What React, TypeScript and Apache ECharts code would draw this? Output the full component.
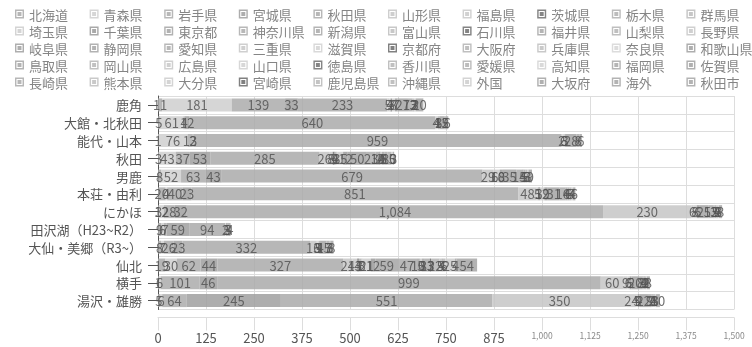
import React, { useEffect, useRef } from "react";
import * as echarts from "echarts";

const _ = null;

const regions = [
  "鹿角",
  "大館・北秋田",
  "能代・山本",
  "秋田",
  "男鹿",
  "本荘・由利",
  "にかほ",
  "田沢湖（H23~R2）",
  "大仙・美郷（R3~）",
  "仙北",
  "横手",
  "湯沢・雄勝",
];

const seriesNames = [
  "北海道", "青森県", "岩手県", "宮城県", "秋田県", "山形県", "福島県", "茨城県", "栃木県", "群馬県",
  "埼玉県", "千葉県", "東京都", "神奈川県", "新潟県", "富山県", "石川県", "福井県", "山梨県", "長野県",
  "岐阜県", "静岡県", "愛知県", "三重県", "滋賀県", "京都府", "大阪府", "兵庫県", "奈良県", "和歌山県",
  "鳥取県", "岡山県", "広島県", "山口県", "徳島県", "香川県", "愛媛県", "高知県", "福岡県", "佐賀県",
  "長崎県", "熊本県", "大分県", "宮崎県", "鹿児島県", "沖縄県", "外国", "大坂府", "海外", "秋田市",
];

const seriesColors = [
  "#a9a9a9", "#cfcfcf", "#acacac", "#9f9f9f", "#aaaaaa", "#c6c6c6", "#c9c9c9", "#6e6e6e", "#b0b0b0", "#bcbcbc",
  "#cccccc", "#9a9a9a", "#a4a4a4", "#ababab", "#a8a8a8", "#bebebe", "#6f6f6f", "#a7a7a7", "#b4b4b4", "#c8c8c8",
  "#a0a0a0", "#a5a5a5", "#acacac", "#c7c7c7", "#d2d2d2", "#6a6a6a", "#b4b4b4", "#c0c0c0", "#d6d6d6", "#a0a0a0",
  "#a6a6a6", "#b6b6b6", "#c8c8c8", "#d0d0d0", "#707070", "#b5b5b5", "#b0b0b0", "#d2d2d2", "#a8a8a8", "#a2a2a2",
  "#aaaaaa", "#c0c0c0", "#cdcdcd", "#6a6a6a", "#b8b8b8", "#b5b5b5", "#cccccc", "#a2a2a2", "#a6a6a6", "#a6a6a6",
];

// one row per series, one value per region (same order as `regions`)
const hokkaido = [11, 5, 1, 3, 8, 20, 3, 9, 8, 19, 1, 5];
const aomori = [181, 61, 76, 43, 52, 4, 12, 6, 7, 30, 6, 6];
const iwate = [139, 4, 13, 37, 63, 40, 28, 7, 26, 62, 101, 64];
const miyagi = [33, 12, 2, 53, 43, 23, 32, 59, 23, 44, 46, 245];
const akitaPref = [233, 640, 959, 285, 679, 851, 1084, 94, 332, 327, 999, 551];
const yamagata = [5, 4, 2, 26, 29, 48, 230, _, 16, 24, 60, 350];
const fukushima = [4, _, _, 8, 6, 5, 6, _, 3, 13, 9, 24];
const ibaraki = [3, _, _, 5, _, 3, _, _, _, 4, _, _];
const tochigi = [_, _, _, 4, _, _, _, _, _, 7, _, _];
const gunma = [_, _, _, 3, _, _, _, _, _, 3, _, _];
const saitama = [8, 4, 6, 15, 10, 12, 8, 2, 5, 21, 6, 5];
const chiba = [7, 3, 3, 12, 8, 9, 6, _, 4, 12, 5, 4];
const tokyo = [27, 12, 28, 50, 35, 31, 25, 5, 15, 59, 20, 22];
const kanagawa = [12, 5, 8, 23, 15, 16, 12, 3, 7, 47, 8, 9];
const niigata = [3, _, _, 10, 4, 4, 3, _, _, 10, 3, 2];
const ishikawa = [_, _, _, 2, _, _, _, _, _, _, _, _];
const nagano = [_, _, _, 4, _, _, _, _, _, 5, _, _];
const shizuoka = [_, _, _, 6, _, _, _, _, _, 8, _, _];
const aichi = [_, _, _, 8, 5, 6, 5, _, _, 13, 4, 4];
const kyoto = [_, _, _, _, _, _, _, _, _, 3, _, _];
const osaka = [2, _, _, 10, 5, 5, 4, _, 3, 22, 3, 3];
const hyogo = [_, _, _, _, _, _, _, _, _, 5, _, _];
const fukuoka = [_, _, _, _, _, _, _, _, _, 4, _, _];
const okinawa = [_, _, _, _, _, _, _, _, _, 6, _, _];
const gaikoku = [3, _, _, 5, 3, 4, 3, _, _, 25, 2, 3];
const kaigai = [_, _, _, 3, _, _, _, _, _, 4, _, _];
const akitaCity = [20, 6, 6, _, 9, 6, 8, 4, 8, 54, 8, 10];
const none = [_, _, _, _, _, _, _, _, _, _, _, _];

const seriesValues = [
  hokkaido, aomori, iwate, miyagi, akitaPref, yamagata, fukushima, ibaraki, tochigi, gunma,
  saitama, chiba, tokyo, kanagawa, niigata, none, ishikawa, none, none, nagano,
  none, shizuoka, aichi, none, none, kyoto, osaka, hyogo, none, none,
  none, none, none, none, none, none, none, none, fukuoka, none,
  none, none, none, none, none, okinawa, gaikoku, none, kaigai, akitaCity,
];

const FONT = "'Noto Sans CJK JP', 'Noto Sans', sans-serif";
const ICON = "path://M0 0H10V10H0ZM1.6 1.6V8.4H8.4V1.6ZM2.8 2.8H7.2V7.2H2.8Z";

export default function App() {
  const ref = useRef<HTMLDivElement>(null);
  useEffect(() => {
    if (!ref.current) return;
    const chart = echarts.init(ref.current, undefined, { renderer: "svg" });
    const legends = Array.from({ length: 10 }, (__, c) => ({
      orient: "vertical",
      left: 10 + c * 74.6,
      top: 2.5,
      itemGap: 4,
      itemWidth: 9,
      itemHeight: 9,
      icon: ICON,
      selectedMode: false,
      data: [0, 1, 2, 3, 4].map((r) => seriesNames[r * 10 + c]),
      textStyle: { fontSize: 13, color: "#858585", fontFamily: FONT },
    }));
    const series = seriesNames.map((name, i) => ({
      name,
      type: "bar",
      stack: "total",
      barWidth: 13,
      data: seriesValues[i],
      itemStyle: { color: seriesColors[i], opacity: 0.85 },
      label: {
        show: true,
        position: "inside",
        color: "#555",
        fontSize: 13,
        fontFamily: FONT,
        formatter: (p: any) => Number(p.value).toLocaleString("en-US"),
      },
      emphasis: { disabled: true },
    }));
    chart.setOption({
      animation: false,
      textStyle: { fontFamily: FONT },
      legend: legends,
      grid: { left: 158, right: 18, top: 96, bottom: 37.5, containLabel: false },
      xAxis: {
        type: "value",
        min: 0,
        max: 1500,
        interval: 125,
        offset: 8,
        axisLine: { show: true, lineStyle: { color: "#ddd" } },
        axisTick: { show: true, length: 13, lineStyle: { color: "#ddd" } },
        splitLine: { show: true, lineStyle: { color: "#ddd" } },
        axisLabel: {
          margin: 13,
          formatter: (v: number) =>
            v >= 1000 ? `{s|${v.toLocaleString("en-US")}}` : `{n|${v}}`,
          rich: {
            n: { fontSize: 13, color: "#555", fontFamily: FONT },
            s: { fontSize: 8.5, color: "#8a8a8a", fontFamily: FONT },
          },
        },
      },
      yAxis: {
        type: "category",
        data: regions,
        inverse: true,
        axisLine: { show: true, lineStyle: { color: "#555" } },
        axisTick: { show: true, alignWithLabel: true, length: 10, lineStyle: { color: "#555" } },
        splitLine: { show: true, lineStyle: { color: "#ddd" } },
        axisLabel: { margin: 16, fontSize: 13, color: "#555", fontFamily: FONT, interval: 0 },
      },
      series,
    });
    return () => chart.dispose();
  }, []);
  return (
    <div
      ref={ref}
      style={{ position: "fixed", left: 0, top: 0, width: 752, height: 347 }}
    />
  );
}
